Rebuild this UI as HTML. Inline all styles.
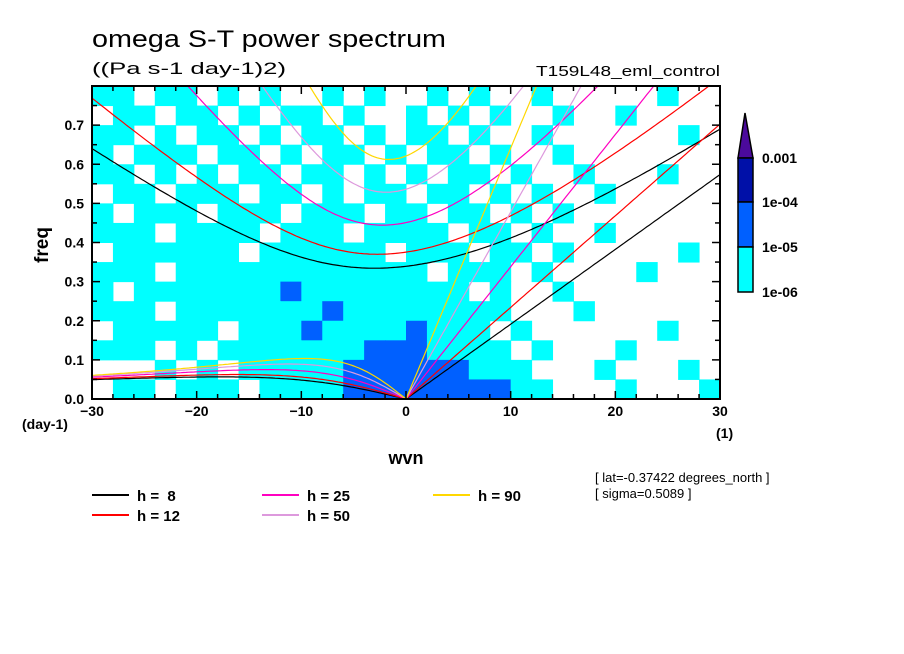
<!DOCTYPE html>
<html><head><meta charset="utf-8"><style>
html,body{margin:0;padding:0;background:#fff;}
svg{display:block;font-family:"Liberation Sans",sans-serif;}
</style></head><body>
<svg id="chart" width="904" height="654" viewBox="0 0 904 654" xmlns="http://www.w3.org/2000/svg">
<defs><clipPath id="plotclip"><rect x="92" y="86" width="628" height="313"/></clipPath></defs>
<text x="92" y="47" font-size="24" textLength="354" lengthAdjust="spacingAndGlyphs">omega S-T power spectrum</text>
<text x="92" y="74" font-size="17" textLength="194" lengthAdjust="spacingAndGlyphs">((Pa s-1 day-1)2)</text>
<text x="720" y="76" font-size="15" text-anchor="end" textLength="184" lengthAdjust="spacingAndGlyphs">T159L48_eml_control</text>
<g id="cells" clip-path="url(#plotclip)"></g>
<g id="curves" clip-path="url(#plotclip)"></g>
<rect x="92" y="86" width="628" height="313" fill="none" stroke="#000" stroke-width="2"/>
<g id="axes"></g>
<text transform="translate(48,245) rotate(-90)" font-size="19" font-weight="bold" text-anchor="middle">freq</text>
<text x="406" y="464" font-size="18" font-weight="bold" text-anchor="middle">wvn</text>
<text x="22" y="429" font-size="14" font-weight="bold">(day-1)</text>
<text x="716" y="438" font-size="14" font-weight="bold">(1)</text>
<g id="colorbar">
<polygon points="745,113 738,158 753,158" fill="#4b0a9c" stroke="#000" stroke-width="1.5"/>
<rect x="738" y="158" width="15" height="44" fill="#0010a8" stroke="#000" stroke-width="1.5"/>
<rect x="738" y="202" width="15" height="45" fill="#0060ff" stroke="#000" stroke-width="1.5"/>
<rect x="738" y="247" width="15" height="45" fill="#00ffff" stroke="#000" stroke-width="1.5"/>
<text x="762" y="163" font-size="14" font-weight="bold">0.001</text>
<text x="762" y="207" font-size="14" font-weight="bold">1e-04</text>
<text x="762" y="252" font-size="14" font-weight="bold">1e-05</text>
<text x="762" y="297" font-size="14" font-weight="bold">1e-06</text>
</g>
<g id="legend"></g>
<text x="595" y="482" font-size="13">[ lat=-0.37422 degrees_north ]</text>
<text x="595" y="498" font-size="13">[ sigma=0.5089 ]</text>
</svg>
<script>
const xTicks=[-30,-20,-10,0,10,20,30];
const yTicks=[0.0,0.1,0.2,0.3,0.4,0.5,0.6,0.7];
const depths=[8,12,25,50,90];
const depthColors=["#000000","#ff0000","#ff00c0","#dd99dd","#ffd700"];
const cellWvnStart=-30, cellWvnStep=2, cellFreqStep=0.05;
const cellRows=[
"110110101001010010100100000100",
"011011010110100101010010010000",
"110101101011010110100100000010",
"101110110101101011010010000000",
"110101011011010101101001000100",
"011011101101011011010100100000",
"101110111011101101101010000000",
"111011110111011110110100100000",
"011111101111110111011010000010",
"111011111111111101110100001000",
"101111111211111111010010000000",
"111011111112111111110001000000",
"011111011121111211101000000100",
"111010111111122211110100010000",
"000101011111222222111000100010",
"011011101111222222221100010001"];
const levelColors=["none","#00ffff","#0060ff","#0010a8"];
const NS="http://www.w3.org/2000/svg";
const X=v=>92+(v+30)/60*628;
const Y=f=>399-f/0.8*313;
function mk(tag,attrs,parent){const e=document.createElementNS(NS,tag);for(const k in attrs)e.setAttribute(k,attrs[k]);parent.appendChild(e);return e;}
const cells=document.getElementById('cells');
cellRows.forEach((row,ri)=>{
  const fTop=0.8-ri*cellFreqStep;
  for(let ci=0;ci<row.length;ci++){
    const lv=+row[ci]; if(!lv) continue;
    const k0=cellWvnStart+ci*cellWvnStep;
    const r=mk('rect',{x:X(k0),y:Y(fTop),width:X(k0+cellWvnStep)-X(k0)+0.5,height:Y(fTop-cellFreqStep)-Y(fTop)+0.5,fill:levelColors[lv]},cells);
    
    
  }
});
const g=9.81,a=6.371e6,beta=2*7.292e-5/a,toCpd=86400/(2*Math.PI);
const curves=document.getElementById('curves');
depths.forEach((h,di)=>{
  const c=Math.sqrt(g*h);
  let kel=[],ross=[],ig=[];
  for(let s=-30;s<=30.001;s+=0.25){
    const k=s/a;
    if(s>=0) kel.push([s,c*k*toCpd]);
    if(s<=0) ross.push([s,-beta*k/(k*k+3*beta/c)*toCpd]);
    const p=c*c*k*k+3*beta*c, q=beta*c*c*k;
    let w=Math.sqrt(p)*1.3;
    for(let i=0;i<50;i++){w-= (w*w*w-p*w-q)/(3*w*w-p);}
    ig.push([s,w*toCpd]);
  }
  [["kelvin",kel],["rossby",ross],["inertia-gravity",ig]].forEach(([nm,pts])=>{
    const d=pts.map((p,i)=>(i?'L':'M')+X(p[0]).toFixed(1)+','+Y(p[1]).toFixed(1)).join('');
    const pa=mk('path',{d:d,fill:'none',stroke:depthColors[di],'stroke-width':1.2},curves);
    
    
  });
});
const axes=document.getElementById('axes');
for(let v=-30;v<=30;v+=2){
  const major=v%10===0, L=major?8:5;
  mk('line',{x1:X(v),x2:X(v),y1:399,y2:399-L,stroke:'#000','stroke-width':1.5},axes);
  mk('line',{x1:X(v),x2:X(v),y1:86,y2:86+L,stroke:'#000','stroke-width':1.5},axes);
}
for(let i=0;i<=16;i++){
  const f=i*0.05, major=i%2===0, L=major?8:5;
  mk('line',{x1:92,x2:92+L,y1:Y(f),y2:Y(f),stroke:'#000','stroke-width':1.5},axes);
  mk('line',{x1:720,x2:720-L,y1:Y(f),y2:Y(f),stroke:'#000','stroke-width':1.5},axes);
}
xTicks.forEach(v=>{
  const t=mk('text',{x:X(v),y:416,'font-size':14,'font-weight':'bold','text-anchor':'middle'},axes);
  t.textContent=String(v).replace('-','\u2212');
  
  
});
yTicks.forEach(f=>{
  const t=mk('text',{x:84,y:Y(f)+5,'font-size':14,'font-weight':'bold','text-anchor':'end'},axes);
  t.textContent=f.toFixed(1);
  
  
});
const legend=document.getElementById('legend');
const legPos=[[92,495],[92,515],[262,495],[262,515],[433,495]];
depths.forEach((h,i)=>{
  const [lx,ly]=legPos[i];
  const ent=mk('g',{},legend);
  
  
  mk('line',{x1:lx,x2:lx+37,y1:ly,y2:ly,stroke:depthColors[i],'stroke-width':2},ent);
  const t=mk('text',{x:lx+45,y:ly+6,'font-size':15,'font-weight':'bold',style:'white-space:pre'},ent);
  t.textContent='h = '+(h<10?' '+h:h);
});
</script>
</body></html>
